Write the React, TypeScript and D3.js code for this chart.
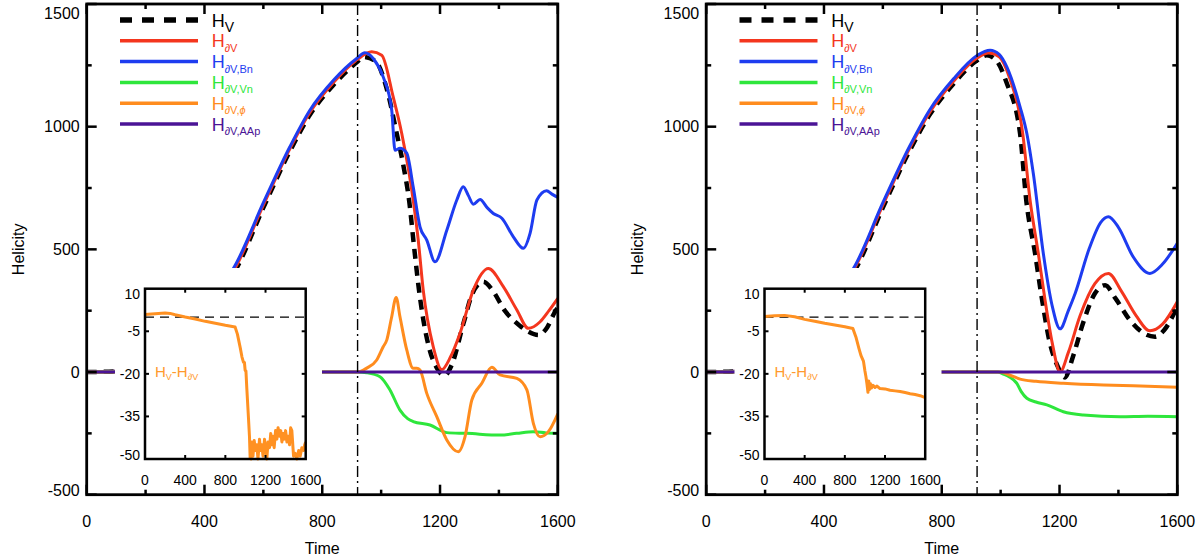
import React, { useEffect, useRef } from 'react';
import * as d3 from 'd3';

type Pt = [number, number];

// time, helicity pairs
const leftHV: Pt[] = [[0, 0], [100, 3], [200, 50], [300, 160], [400, 285], [500, 405], [600, 670], [690, 900], [758, 1048], [838, 1170], [917, 1262], [940, 1284], [980, 1268], [1020, 1150], [1053, 972], [1075, 845], [1096, 690], [1111, 520], [1128, 340], [1143, 215], [1162, 103], [1190, 15], [1215, -15], [1240, 30], [1280, 200], [1310, 320], [1347, 368], [1380, 330], [1420, 250], [1470, 190], [1500, 165], [1534, 151], [1560, 175], [1591, 246], [1600, 262]];
const leftHdV: Pt[] = [[0, 0], [100, 3], [200, 52], [300, 165], [400, 290], [500, 415], [600, 680], [690, 910], [758, 1058], [838, 1180], [917, 1272], [968, 1305], [1002, 1291], [1041, 1121], [1070, 972], [1109, 700], [1126, 538], [1143, 334], [1177, 103], [1206, 10], [1235, 60], [1268, 158], [1313, 334], [1364, 422], [1415, 348], [1461, 253], [1500, 178], [1540, 205], [1570, 250], [1600, 300]];
const leftHBn: Pt[] = [[0, 0], [100, 3], [200, 55], [300, 170], [400, 295], [498, 422], [600, 690], [690, 918], [758, 1067], [838, 1189], [917, 1278], [945, 1301], [975, 1275], [1007, 1203], [1036, 1067], [1047, 904], [1064, 912], [1087, 892], [1109, 754], [1132, 592], [1155, 538], [1183, 449], [1223, 578], [1257, 701], [1279, 755], [1296, 720], [1313, 684], [1336, 703], [1360, 670], [1381, 646], [1410, 627], [1449, 551], [1483, 504], [1506, 566], [1529, 701], [1562, 739], [1580, 725], [1600, 712]];
const leftHVn: Pt[] = [[0, 0], [920, 0], [951, -3], [996, -19], [1030, -73], [1064, -155], [1090, -190], [1109, -202], [1166, -216], [1223, -247], [1291, -250], [1404, -257], [1460, -250], [1517, -243], [1560, -248], [1600, -250]];
const leftHphi: Pt[] = [[0, 0], [920, 0], [951, 16], [985, 49], [1007, 103], [1019, 130], [1035, 220], [1051, 304], [1064, 225], [1087, 90], [1109, 15], [1121, 15], [1132, 8], [1155, -87], [1189, -182], [1223, -277], [1262, -325], [1285, -263], [1308, -114], [1342, -46], [1376, 19], [1404, -12], [1461, -26], [1495, -73], [1517, -209], [1540, -264], [1568, -243], [1600, -170]];
const leftHAAp: Pt[] = [[0, 0], [400, 0], [800, 0], [1200, 0], [1600, 0]];

const rightHV: Pt[] = [[0, 0], [100, 3], [200, 50], [300, 160], [400, 285], [500, 405], [600, 670], [690, 900], [760, 1050], [840, 1175], [920, 1270], [953, 1291], [985, 1270], [1020, 1180], [1066, 972], [1087, 700], [1117, 483], [1140, 300], [1165, 130], [1195, 20], [1219, -22], [1245, 60], [1280, 200], [1320, 320], [1355, 354], [1390, 300], [1440, 210], [1490, 155], [1524, 144], [1555, 170], [1592, 246], [1600, 265]];
const rightHdV: Pt[] = [[0, 0], [100, 3], [200, 52], [300, 165], [400, 290], [500, 415], [600, 680], [690, 910], [760, 1060], [840, 1185], [920, 1280], [960, 1300], [995, 1285], [1030, 1200], [1075, 972], [1100, 700], [1128, 483], [1150, 300], [1175, 120], [1202, 1], [1230, 80], [1270, 230], [1320, 360], [1366, 402], [1410, 330], [1460, 230], [1507, 168], [1550, 195], [1600, 286]];
const rightHBn: Pt[] = [[0, 0], [100, 3], [200, 55], [300, 170], [400, 295], [500, 422], [600, 690], [690, 918], [760, 1070], [840, 1195], [920, 1290], [964, 1312], [995, 1295], [1021, 1244], [1066, 1081], [1089, 972], [1111, 809], [1145, 483], [1175, 270], [1202, 176], [1230, 250], [1253, 320], [1300, 500], [1340, 610], [1366, 633], [1400, 590], [1450, 470], [1507, 402], [1550, 440], [1600, 525]];
const rightHVn: Pt[] = [[0, 0], [990, 0], [1009, -8], [1030, -20], [1055, -46], [1070, -80], [1089, -107], [1120, -122], [1157, -134], [1213, -162], [1281, -175], [1406, -182], [1500, -180], [1600, -182]];
const rightHphi: Pt[] = [[0, 0], [1000, 0], [1030, -12], [1066, -29], [1120, -38], [1213, -46], [1349, -53], [1450, -56], [1600, -62]];
const rightHAAp: Pt[] = [[0, 0], [400, 0], [800, 0], [1200, 0], [1600, 0]];

// H_V - H_dV for the insets
const leftDiff: Pt[] = [[0, 0.9], [100, 1.2], [200, 1.4], [250, 1.3], [300, 0.8], [400, 0], [500, -0.7], [600, -1.5], [700, -2.2], [800, -2.9], [897, -3.5], [920, -6], [947, -10.6], [965, -14], [980, -15.9], [990, -16], [997, -18.8], [1005, -19], [1014, -25.3], [1030, -35.4], [1040, -42], [1047, -49.6], [1055, -50], [1063, -44], [1075, -49], [1087, -43.5], [1100, -47], [1113, -45], [1125, -50], [1140, -43], [1150, -47], [1163, -45], [1175, -49], [1190, -43], [1200, -46], [1213, -50], [1225, -44], [1240, -46], [1252, -41], [1263, -45], [1275, -42], [1286, -46], [1300, -40], [1313, -43], [1325, -39], [1340, -42], [1352, -40], [1363, -44], [1375, -41], [1386, -43], [1400, -40], [1413, -44], [1425, -42], [1439, -45], [1450, -39], [1462, -40], [1479, -49], [1495, -48], [1512, -50], [1530, -47], [1545, -49], [1562, -46], [1579, -47], [1590, -45], [1600, -44]];
const rightDiff: Pt[] = [[0, 0.2], [100, 0.5], [200, 0.6], [300, 0.1], [400, -0.8], [500, -1.5], [600, -2.2], [700, -2.8], [800, -3.4], [880, -4.0], [910, -7], [940, -11], [960, -13.5], [985, -15.5], [1000, -19], [1010, -21], [1020, -23.5], [1030, -26.5], [1038, -22.5], [1045, -25.5], [1055, -23.5], [1065, -25], [1080, -24], [1100, -24.8], [1120, -24.3], [1150, -25.2], [1200, -25.3], [1250, -25.8], [1300, -26], [1350, -26.2], [1400, -26.6], [1450, -27], [1500, -27.3], [1550, -27.7], [1600, -28.4]];

const xTickLabels = [0, 400, 800, 1200, 1600];
const yTickLabels = [-500, 0, 500, 1000, 1500];
const insetXTickLabels = [0, 400, 800, 1200, 1600];
const insetYTickLabels = [10, -5, -20, -35, -50];
const legendSubs = ['V', '∂V', '∂V,Bn', '∂V,Vn', '∂V,ϕ', '∂V,AAp'];
const markTime = 920;

const styles = [
  { color: '#000000', width: 4.5, dash: '10,7' },
  { color: '#f4361e', width: 3, dash: null },
  { color: '#1e3cf0', width: 3, dash: null },
  { color: '#2ee63c', width: 3, dash: null },
  { color: '#ff8c1e', width: 3, dash: null },
  { color: '#4b1496', width: 3, dash: null },
];

const FONT = "'Liberation Sans', Arial, Helvetica, sans-serif";

const drawPanel = (svg, x0: number, series: Pt[][], diff: Pt[], id: string) => {
  const W = 471.1;
  const top = 4;
  const bottom = 494.7;
  const x = d3.scaleLinear().domain([0, 1600]).range([x0, x0 + W]);
  const y = d3.scaleLinear().domain([-500, 1500]).range([bottom, top]);

  svg.append('clipPath').attr('id', id).append('rect')
    .attr('x', x0).attr('y', top).attr('width', W).attr('height', bottom - top);

  const line = d3.line<Pt>().x((d) => x(d[0])).y((d) => y(d[1])).curve(d3.curveMonotoneX);
  const g = svg.append('g').attr('clip-path', `url(#${id})`);
  series.forEach((s, i) => {
    const st = styles[i];
    g.append('path').datum(s).attr('d', line).attr('fill', 'none')
      .attr('stroke', st.color).attr('stroke-width', st.width)
      .attr('stroke-dasharray', st.dash).attr('stroke-linejoin', 'round');
  });

  // dash-dot marker
  svg.append('line').attr('x1', x(markTime)).attr('x2', x(markTime)).attr('y1', top).attr('y2', bottom)
    .attr('stroke', '#000').attr('stroke-width', 1.4).attr('stroke-dasharray', '11,4,2,4');

  // white area behind inset
  svg.append('rect').attr('x', x0 + 28.3).attr('y', 268).attr('width', 207).attr('height', 225).attr('fill', '#fff');

  // frame and ticks
  svg.append('rect').attr('x', x0).attr('y', top).attr('width', W).attr('height', bottom - top)
    .attr('fill', 'none').attr('stroke', '#000').attr('stroke-width', 2.8);
  d3.range(0, 1601, 200).forEach((t) => {
    const len = t % 400 === 0 ? 10 : 5;
    svg.append('line').attr('x1', x(t)).attr('x2', x(t)).attr('y1', bottom).attr('y2', bottom - len).attr('stroke', '#000').attr('stroke-width', 2.5);
    svg.append('line').attr('x1', x(t)).attr('x2', x(t)).attr('y1', top).attr('y2', top + len).attr('stroke', '#000').attr('stroke-width', 2.5);
  });
  d3.range(-500, 1501, 250).forEach((v) => {
    const len = v % 500 === 0 ? 10 : 5;
    svg.append('line').attr('x1', x0).attr('x2', x0 + len).attr('y1', y(v)).attr('y2', y(v)).attr('stroke', '#000').attr('stroke-width', 2.5);
    svg.append('line').attr('x1', x0 + W).attr('x2', x0 + W - len).attr('y1', y(v)).attr('y2', y(v)).attr('stroke', '#000').attr('stroke-width', 2.5);
  });

  xTickLabels.forEach((t) => {
    svg.append('text').attr('x', x(t)).attr('y', 527).attr('text-anchor', 'middle')
      .attr('font-family', FONT).attr('font-size', 16).text(t);
  });
  yTickLabels.forEach((v) => {
    svg.append('text').attr('x', x0 - 7).attr('y', Math.min(Math.max(y(v), 13), 490) + 5.5).attr('text-anchor', 'end')
      .attr('font-family', FONT).attr('font-size', 16).text(v);
  });
  svg.append('text').attr('x', x0 + W / 2).attr('y', 554).attr('text-anchor', 'middle')
    .attr('font-family', FONT).attr('font-size', 16).text('Time');
  svg.append('text').attr('transform', `translate(${x0 - 63},${(top + bottom) / 2}) rotate(-90)`)
    .attr('text-anchor', 'middle').attr('font-family', FONT).attr('font-size', 16).text('Helicity');

  // legend
  legendSubs.forEach((sub, i) => {
    const st = styles[i];
    const ry = 20 + i * 20.8;
    svg.append('line').attr('x1', x0 + 33.3).attr('x2', x0 + 111.3).attr('y1', ry).attr('y2', ry)
      .attr('stroke', st.color).attr('stroke-width', i === 0 ? 5.5 : 3.5)
      .attr('stroke-dasharray', i === 0 ? '12,10' : null);
    const txt = svg.append('text').attr('x', x0 + 125).attr('y', ry + 6.5).attr('font-family', FONT)
      .attr('fill', st.color);
    txt.append('tspan').attr('font-size', 18).text('H');
    if (sub.includes('ϕ')) {
      txt.append('tspan').attr('font-size', 11).attr('dy', 4.5).text('∂V,');
      txt.append('tspan').attr('font-size', 11).attr('font-style', 'italic').text('ϕ');
    } else {
      txt.append('tspan').attr('font-size', i === 0 ? 14 : 11).attr('dy', i === 0 ? 5 : 4.5).text(sub);
    }
  });

  // inset
  const ix0 = x0 + 58.3;
  const ix = d3.scaleLinear().domain([0, 1600]).range([ix0, ix0 + 160.7]);
  const iy = d3.scaleLinear().domain([-50, 10]).range([459, 288.7]);
  const iline = d3.line<Pt>().x((d) => ix(d[0])).y((d) => iy(Math.max(d[1], -50)));
  svg.append('line').attr('x1', ix(0)).attr('x2', ix(1600)).attr('y1', iy(0)).attr('y2', iy(0))
    .attr('stroke', '#000').attr('stroke-width', 1.3).attr('stroke-dasharray', '9,6');
  svg.append('path').datum(diff).attr('d', iline).attr('fill', 'none')
    .attr('stroke', '#ff9122').attr('stroke-width', 3).attr('stroke-linejoin', 'round');
  svg.append('rect').attr('x', ix(0)).attr('y', iy(10)).attr('width', 160.7).attr('height', iy(-50) - iy(10))
    .attr('fill', 'none').attr('stroke', '#000').attr('stroke-width', 2.5);
  [400, 800, 1200].forEach((t) => {
    svg.append('line').attr('x1', ix(t)).attr('x2', ix(t)).attr('y1', iy(-50)).attr('y2', iy(-50) - 4).attr('stroke', '#000').attr('stroke-width', 2);
    svg.append('line').attr('x1', ix(t)).attr('x2', ix(t)).attr('y1', iy(10)).attr('y2', iy(10) + 4).attr('stroke', '#000').attr('stroke-width', 2);
  });
  [-5, -20, -35].forEach((v) => {
    svg.append('line').attr('x1', ix(0)).attr('x2', ix(0) + 4).attr('y1', iy(v)).attr('y2', iy(v)).attr('stroke', '#000').attr('stroke-width', 2);
    svg.append('line').attr('x1', ix(1600)).attr('x2', ix(1600) - 4).attr('y1', iy(v)).attr('y2', iy(v)).attr('stroke', '#000').attr('stroke-width', 2);
  });
  insetXTickLabels.forEach((t) => {
    svg.append('text').attr('x', ix(t)).attr('y', 485).attr('text-anchor', 'middle')
      .attr('font-family', FONT).attr('font-size', 14).text(t);
  });
  insetYTickLabels.forEach((v) => {
    svg.append('text').attr('x', ix0 - 5).attr('y', Math.min(Math.max(iy(v), 294), 455) + 5).attr('text-anchor', 'end')
      .attr('font-family', FONT).attr('font-size', 14).text(v);
  });
  const it = svg.append('text').attr('x', ix0 + 10).attr('y', 377).attr('font-family', FONT).attr('fill', '#ff9a2e');
  it.append('tspan').attr('font-size', 15).text('H');
  it.append('tspan').attr('font-size', 9).attr('dy', 3).text('V');
  it.append('tspan').attr('font-size', 15).attr('dy', -3).text('-H');
  it.append('tspan').attr('font-size', 9).attr('dy', 3).text('∂V');
};

const App = () => {
  const ref = useRef<SVGSVGElement | null>(null);

  useEffect(() => {
    if (!ref.current) return;
    const svg = d3.select(ref.current);
    svg.selectAll('*').remove();
    drawPanel(svg, 86.7, [leftHV, leftHdV, leftHBn, leftHVn, leftHphi, leftHAAp], leftDiff, 'clipL');
    drawPanel(svg, 706.2, [rightHV, rightHdV, rightHBn, rightHVn, rightHphi, rightHAAp], rightDiff, 'clipR');
  }, []);

  return (
    <svg ref={ref} width={1200} height={556} style={{ position: 'absolute', left: 0, top: 0, background: '#fff' }} />
  );
};

export default App;
